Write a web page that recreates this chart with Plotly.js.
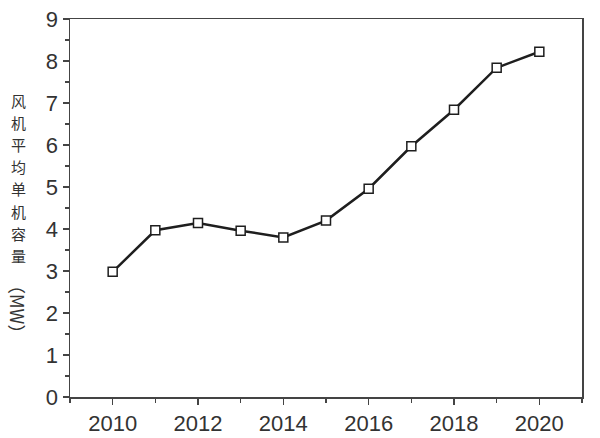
<!DOCTYPE html>
<html>
<head>
<meta charset="utf-8">
<script src="https://cdn.plot.ly/plotly-3.0.1.min.js"></script>
<style>html,body{margin:0;padding:0;background:#fff;}#chart{width:600px;height:438px;}</style>
</head>
<body>
<div id="chart"></div>
<script>
const years = [2010, 2011, 2012, 2013, 2014, 2015, 2016, 2017, 2018, 2019, 2020];
const capacityMW = [2.98, 3.97, 4.14, 3.96, 3.80, 4.20, 4.96, 5.97, 6.84, 7.84, 8.22];
const xTickVals = [2010, 2012, 2014, 2016, 2018, 2020];
const yTickVals = [0, 1, 2, 3, 4, 5, 6, 7, 8, 9];
const titleChars = ['风', '机', '平', '均', '单', '机', '容', '量'];
const titleUnit = '（MW）';

const plotTop = 19, plotBottom = 397, plotH = plotBottom - plotTop;
const toPaperY = p => (plotBottom - p) / plotH;
const titleX = (18 - 70) / 512;
const firstCenter = 100, charStep = 22.2;

const annotations = titleChars.map((c, i) => ({
  text: c, xref: 'paper', yref: 'paper', x: titleX, y: toPaperY(firstCenter + i * charStep),
  xanchor: 'center', yanchor: 'middle', showarrow: false,
  font: {family: 'Noto Sans CJK SC', size: 15, color: '#333'}
}));
annotations.push({
  text: titleUnit, xref: 'paper', yref: 'paper', x: titleX, y: toPaperY(309),
  xanchor: 'center', yanchor: 'middle', showarrow: false, textangle: 90,
  font: {family: 'Noto Sans CJK SC', size: 18, color: '#333'}
});

const trace = {
  x: years, y: capacityMW, type: 'scatter', mode: 'lines+markers',
  line: {color: '#1e1e1e', width: 2.5},
  marker: {symbol: 'square', size: 9, color: '#fff', line: {color: '#1e1e1e', width: 1.5}},
  cliponaxis: false
};

const axisCommon = {
  showline: true, linecolor: '#444', linewidth: 1.5, mirror: true,
  ticks: 'outside', ticklen: 6, tickwidth: 1.2, tickcolor: '#444',
  showgrid: false, zeroline: false,
  tickfont: {family: 'Liberation Sans, Arial, sans-serif', size: 22, color: '#333'}
};

const layout = {
  width: 600, height: 438,
  margin: {l: 70, r: 18, t: 19, b: 41},
  paper_bgcolor: '#fff', plot_bgcolor: '#fff',
  showlegend: false,
  xaxis: Object.assign({}, axisCommon, {
    range: [2009, 2021], tickmode: 'array', tickvals: xTickVals,
    ticktext: xTickVals.map(String),
    minor: {tickmode: 'array', tickvals: [2009, 2011, 2013, 2015, 2017, 2019, 2021], ticks: 'outside', ticklen: 4, tickcolor: '#444', tickwidth: 1.2}
  }),
  yaxis: Object.assign({}, axisCommon, {
    range: [0, 9], tickmode: 'array', tickvals: yTickVals,
    minor: {dtick: 0.5, ticks: 'outside', ticklen: 4, tickcolor: '#444', tickwidth: 1.2}
  }),
  annotations: annotations
};

Plotly.newPlot('chart', [trace], layout, {displayModeBar: false, staticPlot: true});
</script>
</body>
</html>
